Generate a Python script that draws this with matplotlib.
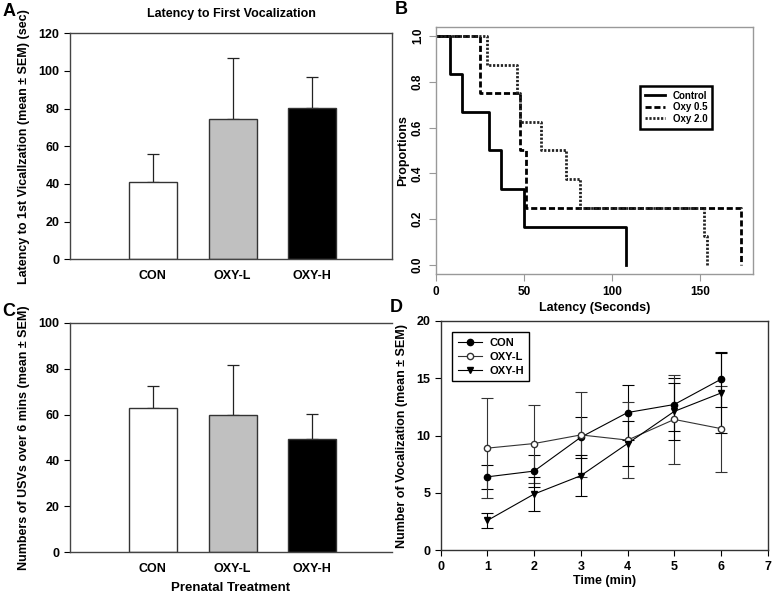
import numpy as np
import matplotlib
matplotlib.use("Agg")
import matplotlib.pyplot as plt

plt.rcParams['font.family'] = ['Liberation Sans', 'DejaVu Sans']
plt.rcParams['font.weight'] = 'bold'

# panel A - latency to first vocalization
groups = ['CON', 'OXY-L', 'OXY-H']
latency_mean = [41.2, 74.3, 80.5]
latency_sem = [14.6, 32.8, 16.3]

# panel C - total USVs
usv_mean = [62.7, 59.8, 49.2]
usv_sem = [9.7, 21.6, 11.0]

bar_colors = ['white', '#c0c0c0', 'black']

# panel B - survival (proportion not yet vocalized)
ctrl_t = [0, 8, 15, 30, 37, 50, 108]
ctrl_p = [1.0, 0.833, 0.667, 0.5, 0.333, 0.167, 0.0]
oxy05_t = [0, 25, 48, 51, 173]
oxy05_p = [1.0, 0.75, 0.5, 0.25, 0.0]
oxy20_t = [0, 29, 46, 48, 60, 74, 82, 152, 154]
oxy20_p = [1.0, 0.875, 0.75, 0.625, 0.5, 0.375, 0.25, 0.125, 0.0]

# panel D - vocalizations per minute
minutes = [1, 2, 3, 4, 5, 6]
con_mean = [6.4, 6.9, 9.85, 12.0, 12.7, 14.9]
con_sem = [1.05, 1.4, 1.8, 2.4, 2.3, 2.4]
oxyl_mean = [8.9, 9.3, 10.05, 9.6, 11.4, 10.6]
oxyl_sem = [4.35, 3.4, 3.7, 3.3, 3.9, 3.75]
oxyh_mean = [2.6, 4.9, 6.5, 9.3, 12.1, 13.7]
oxyh_sem = [0.68, 1.5, 1.8, 2.0, 2.5, 3.5]

W, H = 773, 598
fig = plt.figure(figsize=(W / 100, H / 100), dpi=100)


def box(l, t, r, b):
    return [l / W, 1 - b / H, (r - l) / W, (b - t) / H]


def bar_panel(ax, means, sems, ymax, yticks):
    x = np.arange(len(groups))
    ax.errorbar(x, means, yerr=[[0] * len(sems), sems], fmt='none', ecolor='#222222',
                elinewidth=0.9, capsize=4, capthick=0.9, zorder=1)
    ax.bar(x, means, width=0.6, color=bar_colors, edgecolor='#333333', linewidth=1.0, zorder=2)
    ax.set_xlim(-1.04, 3.0)
    ax.set_ylim(0, ymax)
    ax.set_yticks(yticks)
    ax.set_xticks(x)
    ax.set_xticklabels(groups, fontsize=9, fontweight='bold')
    ax.tick_params(axis='x', length=0, pad=8)
    ax.tick_params(axis='y', direction='out', length=4, labelsize=9, width=0.8)
    for s in ax.spines.values():
        s.set_color('#444444')
        s.set_linewidth(1.0)


# A
axA = fig.add_axes(box(70, 33.3, 392, 259.3))
bar_panel(axA, latency_mean, latency_sem, 120, range(0, 121, 20))
axA.set_title('Latency to First Vocalization', fontsize=9, fontweight='bold', pad=12)
axA.set_ylabel('Latency to 1st Vicallzation (mean \u00b1 SEM) (sec)', fontsize=9,
               fontweight='bold', labelpad=6)

# C
axC = fig.add_axes(box(70, 322.7, 392, 552.3))
bar_panel(axC, usv_mean, usv_sem, 100, range(0, 101, 20))
axC.spines['right'].set_visible(False)
axC.set_ylabel('Numbers of USVs over 6 mins (mean \u00b1 SEM)', fontsize=9,
               fontweight='bold', labelpad=6)
axC.set_xlabel('Prenatal Treatment', fontsize=9.5, fontweight='bold', labelpad=5)

# B
axB = fig.add_axes(box(435.7, 27, 753, 274))
axB.step(ctrl_t, ctrl_p, where='post', color='black', lw=2.0, label='Control')
axB.step(oxy05_t, oxy05_p, where='post', color='black', lw=2.0,
         linestyle=(0, (2.2, 1.0)), label='Oxy 0.5')
axB.step(oxy20_t, oxy20_p, where='post', color='#222222', lw=2.0,
         linestyle=(0, (0.8, 0.6)), label='Oxy 2.0')
axB.set_xlim(0, 180)
axB.set_ylim(-0.04, 1.04)
axB.set_xticks([0, 50, 100, 150])
axB.set_yticks([0.0, 0.2, 0.4, 0.6, 0.8, 1.0])
axB.set_yticklabels(['0.0', '0.2', '0.4', '0.6', '0.8', '1.0'], rotation=90, va='center')
axB.tick_params(direction='out', length=5, color='#999999', labelsize=8.5)
for s in axB.spines.values():
    s.set_color('#999999')
    s.set_linewidth(1.0)
axB.set_xlabel('Latency (Seconds)', fontsize=9, fontweight='bold', labelpad=3)
axB.set_ylabel('Proportions', fontsize=9, fontweight='bold', labelpad=2)
legB = axB.legend(loc='upper left', bbox_to_anchor=(0.63, 0.781), fontsize=7,
                  handlelength=2.0, handletextpad=0.8, borderpad=0.5,
                  labelspacing=0.15, fancybox=False, framealpha=1)
legB.get_frame().set_edgecolor('black')
legB.get_frame().set_linewidth(1.8)

# D
axD = fig.add_axes(box(440.7, 320.7, 767.7, 550.3))
axD.errorbar(minutes, con_mean, yerr=con_sem, color='black', lw=0.8, marker='o',
             markersize=4.5, mfc='black', mec='black', capsize=4, capthick=0.8,
             elinewidth=0.8, label='CON')
axD.errorbar(minutes, oxyl_mean, yerr=oxyl_sem, color='#333333', lw=0.8, marker='o',
             markersize=4.5, mfc='white', mec='#333333', capsize=4, capthick=0.8,
             elinewidth=0.8, label='OXY-L')
axD.errorbar(minutes, oxyh_mean, yerr=oxyh_sem, color='black', lw=0.8, marker='v',
             markersize=5, mfc='black', mec='black', capsize=4, capthick=0.8,
             elinewidth=0.8, label='OXY-H')
axD.set_xlim(0, 7)
axD.set_ylim(0, 20)
axD.set_xticks(range(0, 8))
axD.set_yticks(range(0, 21, 5))
axD.tick_params(direction='out', length=4, labelsize=9, width=0.8)
for s in axD.spines.values():
    s.set_color('#333333')
    s.set_linewidth(1.0)
axD.set_xlabel('Time (min)', fontsize=9, fontweight='bold', labelpad=2)
axD.set_ylabel('Number of Vocalization (mean \u00b1 SEM)', fontsize=9,
               fontweight='bold', labelpad=6)
handles, labels = axD.get_legend_handles_labels()
handles = [h[0] for h in handles]
legD = axD.legend(handles, labels, loc='upper left', bbox_to_anchor=(0.019, 0.973),
                  fontsize=8, handlelength=2.2, handletextpad=0.6, borderpad=0.5,
                  labelspacing=0.35, fancybox=False, framealpha=1)
legD.get_frame().set_edgecolor('black')
legD.get_frame().set_linewidth(1.0)

# panel letters
for letter, px, py in [('A', 9, 12), ('B', 401, 10), ('C', 9, 312), ('D', 396, 308)]:
    fig.text(px / W, 1 - py / H, letter, fontsize=13, fontweight='bold',
             ha='center', va='center')

fig.savefig('out.png', dpi=100)
